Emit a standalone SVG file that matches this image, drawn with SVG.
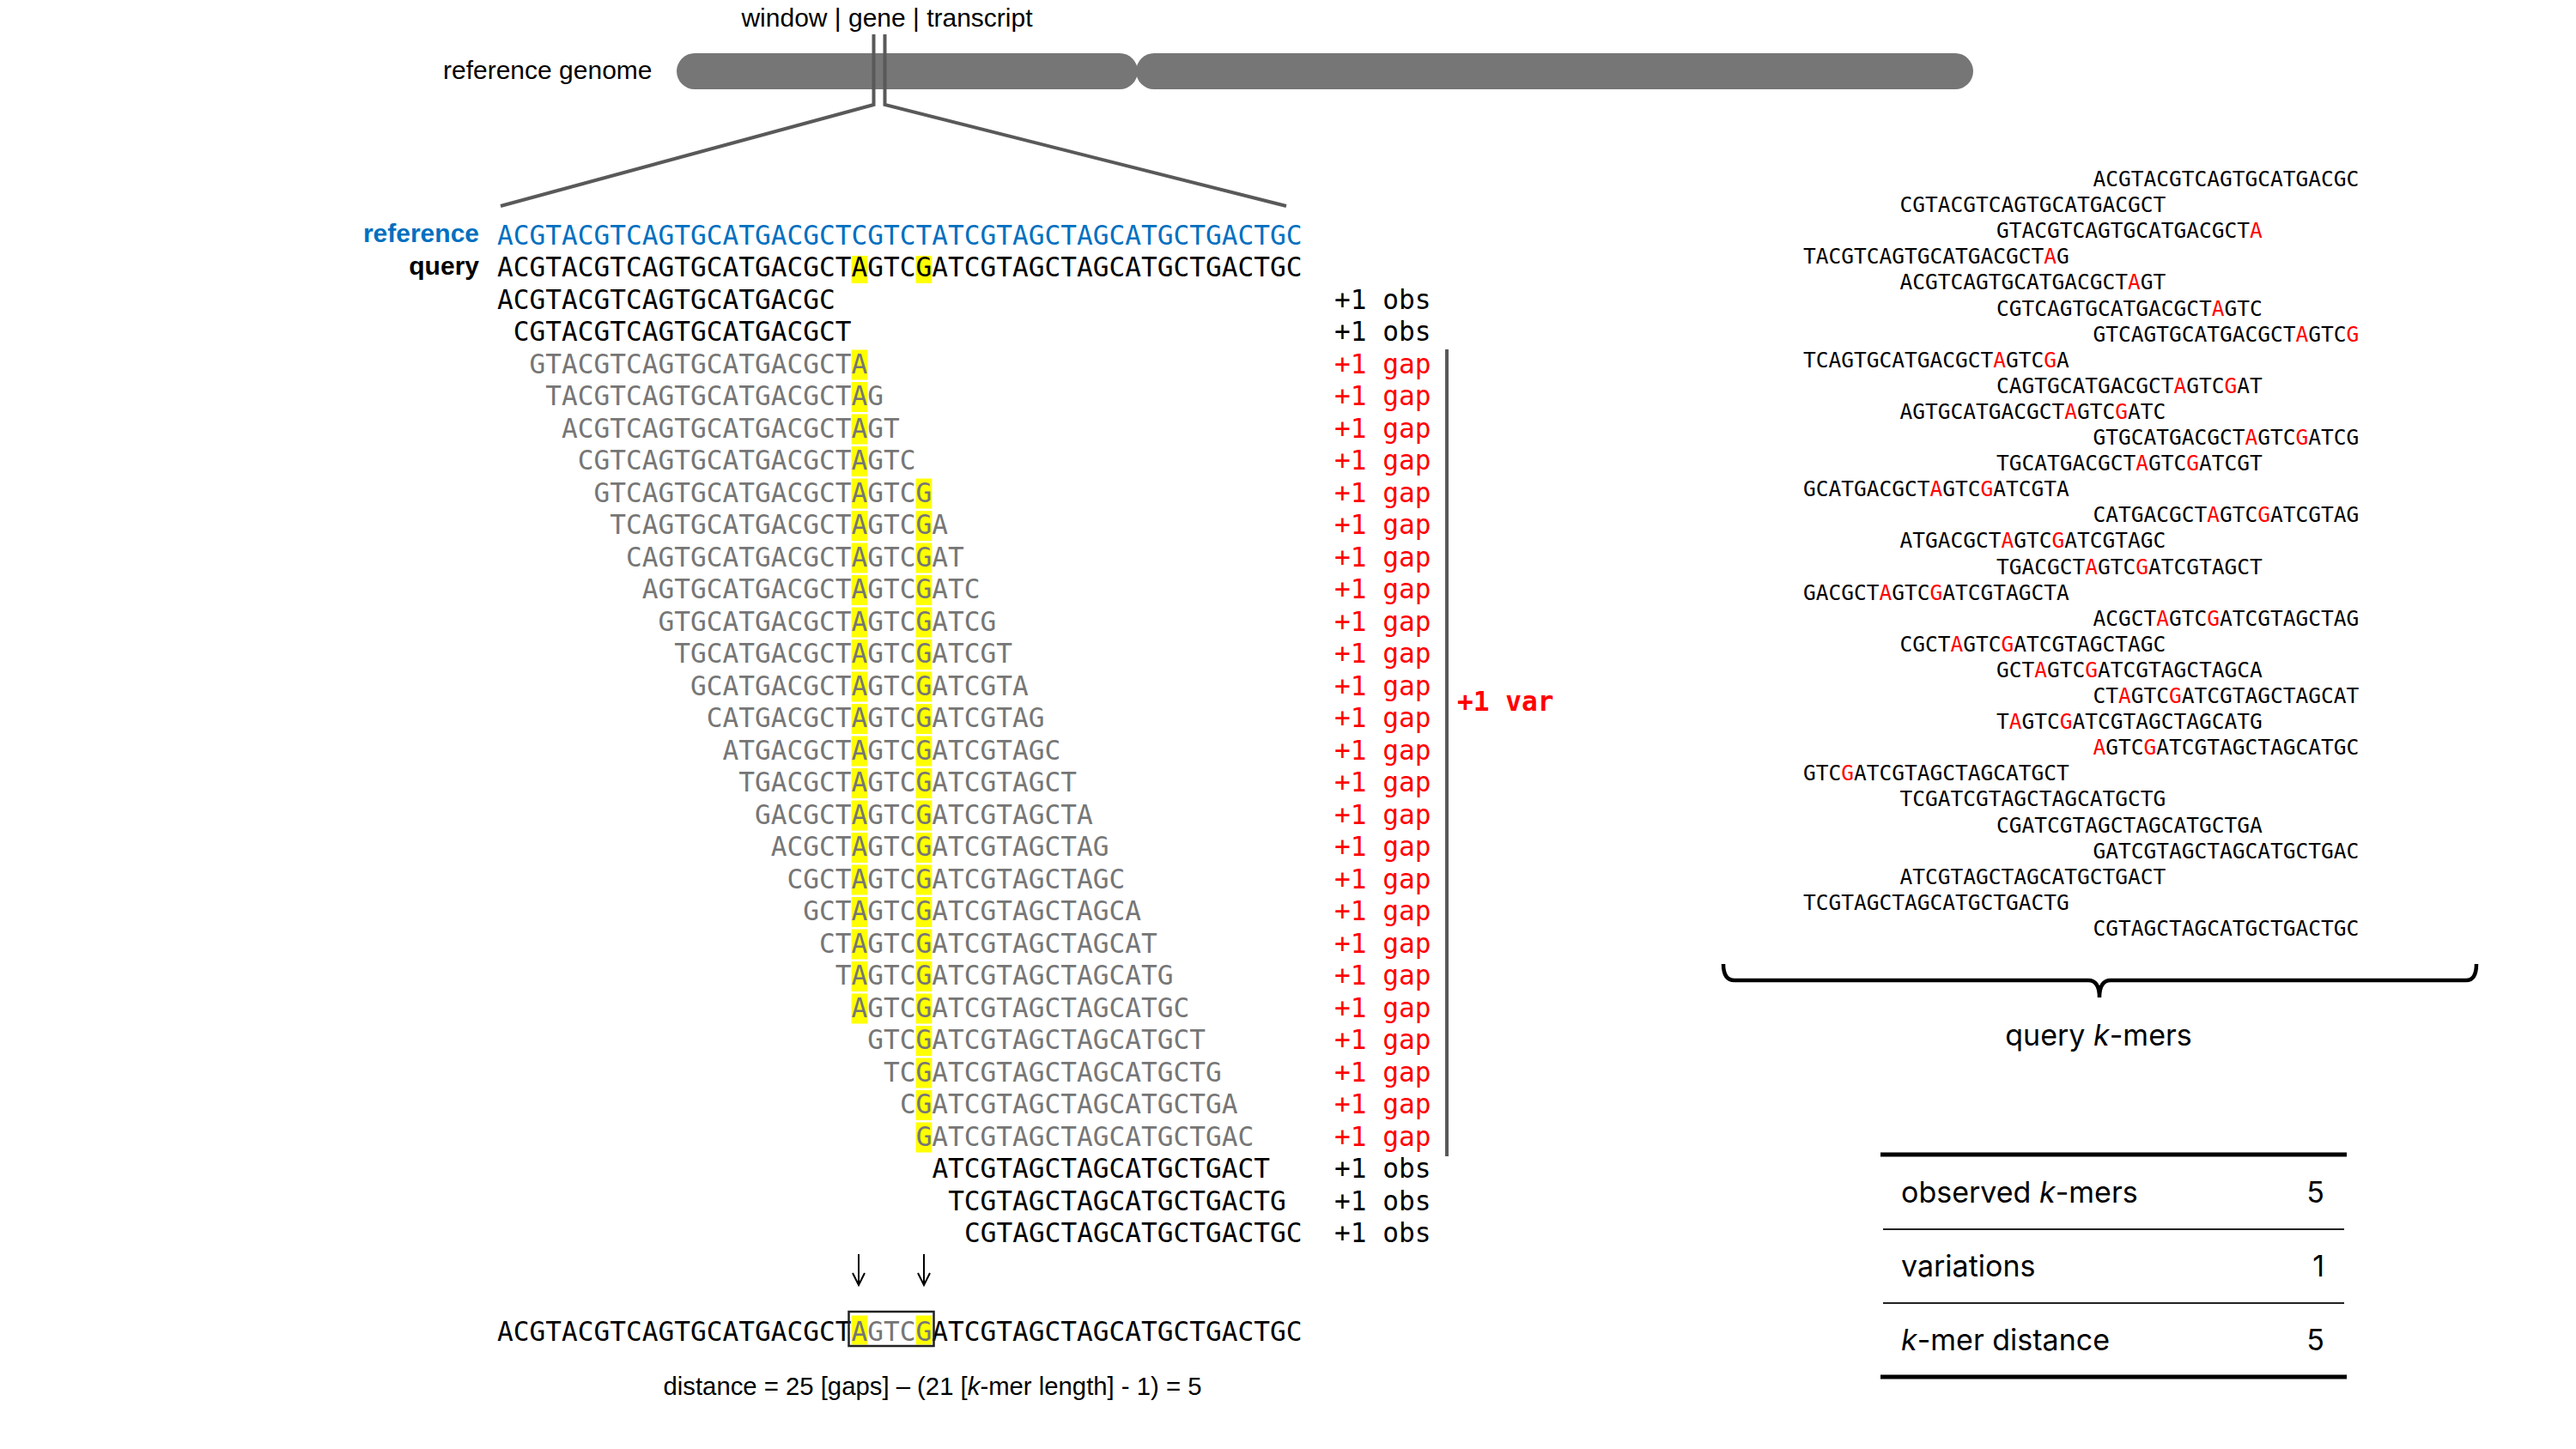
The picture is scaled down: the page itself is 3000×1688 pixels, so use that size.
<svg xmlns="http://www.w3.org/2000/svg" width="3000" height="1688" viewBox="0 0 3000 1688">
<style>
.seq{font-family:"DejaVu Sans Mono","Liberation Mono",monospace;font-size:31.15px;}
.kl{font-family:"DejaVu Sans Mono","Liberation Mono",monospace;font-size:24.5px;fill:#000;}
.gray{fill:#767676;}
.blk{fill:#000;}
.blue{fill:#0070C0;}
.red{fill:#FF0000;}
.hl{fill:#FFFF00;}
.lbl{font-family:"Liberation Sans",Arial,sans-serif;font-size:30px;fill:#000;}
.dist{font-family:"Liberation Sans",Arial,sans-serif;font-size:29.3px;fill:#000;}
.blbl{font-family:"Liberation Sans",Arial,sans-serif;font-size:30px;font-weight:bold;}
.tbl{font-family:Inter,"Liberation Sans",sans-serif;font-size:34px;fill:#000;}
.zoomln{fill:none;stroke:#595959;stroke-width:4;}
.arrow{fill:none;stroke:#000;stroke-width:2;}
</style>
<rect width="3000" height="1688" fill="#fff"/>

<g id="genome">
  <text class="lbl" x="1033" y="31" text-anchor="middle">window | gene | transcript</text>
  <text class="lbl" x="516" y="92">reference genome</text>
  <rect x="788" y="62" width="537" height="42" rx="21" fill="#767676"/>
  <rect x="1323" y="62" width="975" height="42" rx="21" fill="#767676"/>
</g>

<g id="connectors">
  <path class="zoomln" d="M1017.5,40 V122 L583,240"/>
  <path class="zoomln" d="M1030.5,40 V122 L1498,240"/>
  <line x1="1685" y1="407" x2="1685" y2="1347" stroke="#595959" stroke-width="4"/>
  <path class="arrow" d="M1000,1461 V1497 M993,1483 L1000,1497 L1007,1483"/>
  <path class="arrow" d="M1076,1461 V1497 M1069,1483 L1076,1497 L1083,1483"/>
</g>

<g id="highlights">
  <rect class="hl" x="991.6" y="298" width="18.76" height="32"/>
  <rect class="hl" x="1066.6" y="298" width="18.76" height="32"/>
  <rect class="hl" x="991.6" y="407.5" width="18.76" height="35"/>
  <rect class="hl" x="991.6" y="445" width="18.76" height="35"/>
  <rect class="hl" x="991.6" y="482.5" width="18.76" height="35"/>
  <rect class="hl" x="991.6" y="520" width="18.76" height="35"/>
  <rect class="hl" x="991.6" y="557.5" width="18.76" height="35"/>
  <rect class="hl" x="991.6" y="595" width="18.76" height="35"/>
  <rect class="hl" x="991.6" y="632.5" width="18.76" height="35"/>
  <rect class="hl" x="991.6" y="670" width="18.76" height="35"/>
  <rect class="hl" x="991.6" y="707.5" width="18.76" height="35"/>
  <rect class="hl" x="991.6" y="745" width="18.76" height="35"/>
  <rect class="hl" x="991.6" y="782.5" width="18.76" height="35"/>
  <rect class="hl" x="991.6" y="820" width="18.76" height="35"/>
  <rect class="hl" x="991.6" y="857.5" width="18.76" height="35"/>
  <rect class="hl" x="991.6" y="895" width="18.76" height="35"/>
  <rect class="hl" x="991.6" y="932.5" width="18.76" height="35"/>
  <rect class="hl" x="991.6" y="970" width="18.76" height="35"/>
  <rect class="hl" x="991.6" y="1007.5" width="18.76" height="35"/>
  <rect class="hl" x="991.6" y="1045" width="18.76" height="35"/>
  <rect class="hl" x="991.6" y="1082.5" width="18.76" height="35"/>
  <rect class="hl" x="991.6" y="1120" width="18.76" height="35"/>
  <rect class="hl" x="991.6" y="1157.5" width="18.76" height="35"/>
  <rect class="hl" x="1066.6" y="557.5" width="18.76" height="35"/>
  <rect class="hl" x="1066.6" y="595" width="18.76" height="35"/>
  <rect class="hl" x="1066.6" y="632.5" width="18.76" height="35"/>
  <rect class="hl" x="1066.6" y="670" width="18.76" height="35"/>
  <rect class="hl" x="1066.6" y="707.5" width="18.76" height="35"/>
  <rect class="hl" x="1066.6" y="745" width="18.76" height="35"/>
  <rect class="hl" x="1066.6" y="782.5" width="18.76" height="35"/>
  <rect class="hl" x="1066.6" y="820" width="18.76" height="35"/>
  <rect class="hl" x="1066.6" y="857.5" width="18.76" height="35"/>
  <rect class="hl" x="1066.6" y="895" width="18.76" height="35"/>
  <rect class="hl" x="1066.6" y="932.5" width="18.76" height="35"/>
  <rect class="hl" x="1066.6" y="970" width="18.76" height="35"/>
  <rect class="hl" x="1066.6" y="1007.5" width="18.76" height="35"/>
  <rect class="hl" x="1066.6" y="1045" width="18.76" height="35"/>
  <rect class="hl" x="1066.6" y="1082.5" width="18.76" height="35"/>
  <rect class="hl" x="1066.6" y="1120" width="18.76" height="35"/>
  <rect class="hl" x="1066.6" y="1157.5" width="18.76" height="35"/>
  <rect class="hl" x="1066.6" y="1195" width="18.76" height="35"/>
  <rect class="hl" x="1066.6" y="1232.5" width="18.76" height="35"/>
  <rect class="hl" x="1066.6" y="1270" width="18.76" height="35"/>
  <rect class="hl" x="1066.6" y="1307.5" width="18.76" height="35"/>
  <rect class="hl" x="991.6" y="1532.5" width="18.76" height="34"/>
  <rect class="hl" x="1066.6" y="1532.5" width="18.76" height="34"/>
</g>

<g id="reference-row">
  <text class="blbl blue" x="558" y="282" text-anchor="end">reference</text>
  <text class="seq blue" x="579" y="284.5">ACGTACGTCAGTGCATGACGCTCGTCTATCGTAGCTAGCATGCTGACTGC</text>
</g>
<g id="query-row">
  <text class="blbl blk" x="558" y="319.5" text-anchor="end">query</text>
  <text class="seq blk" x="579" y="322">ACGTACGTCAGTGCATGACGCTAGTCGATCGTAGCTAGCATGCTGACTGC</text>
</g>

<g id="kmer-rows">
  <text class="seq blk" x="579" y="359.5">ACGTACGTCAGTGCATGACGC</text>
  <text class="seq blk" x="597.76" y="397">CGTACGTCAGTGCATGACGCT</text>
  <text class="seq gray" x="616.51" y="434.5">GTACGTCAGTGCATGACGCTA</text>
  <text class="seq gray" x="635.27" y="472">TACGTCAGTGCATGACGCTAG</text>
  <text class="seq gray" x="654.02" y="509.5">ACGTCAGTGCATGACGCTAGT</text>
  <text class="seq gray" x="672.78" y="547">CGTCAGTGCATGACGCTAGTC</text>
  <text class="seq gray" x="691.53" y="584.5">GTCAGTGCATGACGCTAGTCG</text>
  <text class="seq gray" x="710.29" y="622">TCAGTGCATGACGCTAGTCGA</text>
  <text class="seq gray" x="729.04" y="659.5">CAGTGCATGACGCTAGTCGAT</text>
  <text class="seq gray" x="747.80" y="697">AGTGCATGACGCTAGTCGATC</text>
  <text class="seq gray" x="766.55" y="734.5">GTGCATGACGCTAGTCGATCG</text>
  <text class="seq gray" x="785.31" y="772">TGCATGACGCTAGTCGATCGT</text>
  <text class="seq gray" x="804.06" y="809.5">GCATGACGCTAGTCGATCGTA</text>
  <text class="seq gray" x="822.82" y="847">CATGACGCTAGTCGATCGTAG</text>
  <text class="seq gray" x="841.57" y="884.5">ATGACGCTAGTCGATCGTAGC</text>
  <text class="seq gray" x="860.33" y="922">TGACGCTAGTCGATCGTAGCT</text>
  <text class="seq gray" x="879.08" y="959.5">GACGCTAGTCGATCGTAGCTA</text>
  <text class="seq gray" x="897.84" y="997">ACGCTAGTCGATCGTAGCTAG</text>
  <text class="seq gray" x="916.59" y="1034.5">CGCTAGTCGATCGTAGCTAGC</text>
  <text class="seq gray" x="935.35" y="1072">GCTAGTCGATCGTAGCTAGCA</text>
  <text class="seq gray" x="954.10" y="1109.5">CTAGTCGATCGTAGCTAGCAT</text>
  <text class="seq gray" x="972.86" y="1147">TAGTCGATCGTAGCTAGCATG</text>
  <text class="seq gray" x="991.61" y="1184.5">AGTCGATCGTAGCTAGCATGC</text>
  <text class="seq gray" x="1010.37" y="1222">GTCGATCGTAGCTAGCATGCT</text>
  <text class="seq gray" x="1029.12" y="1259.5">TCGATCGTAGCTAGCATGCTG</text>
  <text class="seq gray" x="1047.88" y="1297">CGATCGTAGCTAGCATGCTGA</text>
  <text class="seq gray" x="1066.63" y="1334.5">GATCGTAGCTAGCATGCTGAC</text>
  <text class="seq blk" x="1085.39" y="1372">ATCGTAGCTAGCATGCTGACT</text>
  <text class="seq blk" x="1104.14" y="1409.5">TCGTAGCTAGCATGCTGACTG</text>
  <text class="seq blk" x="1122.90" y="1447">CGTAGCTAGCATGCTGACTGC</text>
</g>

<g id="counts">
  <text class="seq blk" x="1554" y="359.5">+1 obs</text>
  <text class="seq blk" x="1554" y="397">+1 obs</text>
  <text class="seq red" x="1554" y="434.5">+1 gap</text>
  <text class="seq red" x="1554" y="472">+1 gap</text>
  <text class="seq red" x="1554" y="509.5">+1 gap</text>
  <text class="seq red" x="1554" y="547">+1 gap</text>
  <text class="seq red" x="1554" y="584.5">+1 gap</text>
  <text class="seq red" x="1554" y="622">+1 gap</text>
  <text class="seq red" x="1554" y="659.5">+1 gap</text>
  <text class="seq red" x="1554" y="697">+1 gap</text>
  <text class="seq red" x="1554" y="734.5">+1 gap</text>
  <text class="seq red" x="1554" y="772">+1 gap</text>
  <text class="seq red" x="1554" y="809.5">+1 gap</text>
  <text class="seq red" x="1554" y="847">+1 gap</text>
  <text class="seq red" x="1554" y="884.5">+1 gap</text>
  <text class="seq red" x="1554" y="922">+1 gap</text>
  <text class="seq red" x="1554" y="959.5">+1 gap</text>
  <text class="seq red" x="1554" y="997">+1 gap</text>
  <text class="seq red" x="1554" y="1034.5">+1 gap</text>
  <text class="seq red" x="1554" y="1072">+1 gap</text>
  <text class="seq red" x="1554" y="1109.5">+1 gap</text>
  <text class="seq red" x="1554" y="1147">+1 gap</text>
  <text class="seq red" x="1554" y="1184.5">+1 gap</text>
  <text class="seq red" x="1554" y="1222">+1 gap</text>
  <text class="seq red" x="1554" y="1259.5">+1 gap</text>
  <text class="seq red" x="1554" y="1297">+1 gap</text>
  <text class="seq red" x="1554" y="1334.5">+1 gap</text>
  <text class="seq blk" x="1554" y="1372">+1 obs</text>
  <text class="seq blk" x="1554" y="1409.5">+1 obs</text>
  <text class="seq blk" x="1554" y="1447">+1 obs</text>
  <text class="seq red" x="1697" y="828" font-weight="bold">+1 var</text>
</g>

<g id="result-row">
  <text class="seq blk" x="579" y="1561.5">ACGTACGTCAGTGCATGACGCT<tspan class="gray">AGTCG</tspan>ATCGTAGCTAGCATGCTGACTGC</text>
  <rect x="988.5" y="1528" width="99" height="40" fill="none" stroke="#222" stroke-width="2.5"/>
  <text class="dist" x="1086" y="1625" text-anchor="middle">distance = 25 [gaps] – (21 [<tspan font-style="italic">k</tspan>-mer length] - 1) = 5</text>
</g>

<g id="query-kmer-list">
  <text class="kl" x="2437.5" y="217">ACGTACGTCAGTGCATGACGC</text>
  <text class="kl" x="2212.5" y="247.1">CGTACGTCAGTGCATGACGCT</text>
  <text class="kl" x="2325" y="277.2">GTACGTCAGTGCATGACGCT<tspan class="red">A</tspan></text>
  <text class="kl" x="2100" y="307.3">TACGTCAGTGCATGACGCT<tspan class="red">A</tspan>G</text>
  <text class="kl" x="2212.5" y="337.4">ACGTCAGTGCATGACGCT<tspan class="red">A</tspan>GT</text>
  <text class="kl" x="2325" y="367.5">CGTCAGTGCATGACGCT<tspan class="red">A</tspan>GTC</text>
  <text class="kl" x="2437.5" y="397.6">GTCAGTGCATGACGCT<tspan class="red">A</tspan>GTC<tspan class="red">G</tspan></text>
  <text class="kl" x="2100" y="427.7">TCAGTGCATGACGCT<tspan class="red">A</tspan>GTC<tspan class="red">G</tspan>A</text>
  <text class="kl" x="2325" y="457.8">CAGTGCATGACGCT<tspan class="red">A</tspan>GTC<tspan class="red">G</tspan>AT</text>
  <text class="kl" x="2212.5" y="487.9">AGTGCATGACGCT<tspan class="red">A</tspan>GTC<tspan class="red">G</tspan>ATC</text>
  <text class="kl" x="2437.5" y="518">GTGCATGACGCT<tspan class="red">A</tspan>GTC<tspan class="red">G</tspan>ATCG</text>
  <text class="kl" x="2325" y="548.1">TGCATGACGCT<tspan class="red">A</tspan>GTC<tspan class="red">G</tspan>ATCGT</text>
  <text class="kl" x="2100" y="578.2">GCATGACGCT<tspan class="red">A</tspan>GTC<tspan class="red">G</tspan>ATCGTA</text>
  <text class="kl" x="2437.5" y="608.3">CATGACGCT<tspan class="red">A</tspan>GTC<tspan class="red">G</tspan>ATCGTAG</text>
  <text class="kl" x="2212.5" y="638.4">ATGACGCT<tspan class="red">A</tspan>GTC<tspan class="red">G</tspan>ATCGTAGC</text>
  <text class="kl" x="2325" y="668.5">TGACGCT<tspan class="red">A</tspan>GTC<tspan class="red">G</tspan>ATCGTAGCT</text>
  <text class="kl" x="2100" y="698.6">GACGCT<tspan class="red">A</tspan>GTC<tspan class="red">G</tspan>ATCGTAGCTA</text>
  <text class="kl" x="2437.5" y="728.7">ACGCT<tspan class="red">A</tspan>GTC<tspan class="red">G</tspan>ATCGTAGCTAG</text>
  <text class="kl" x="2212.5" y="758.8">CGCT<tspan class="red">A</tspan>GTC<tspan class="red">G</tspan>ATCGTAGCTAGC</text>
  <text class="kl" x="2325" y="788.9">GCT<tspan class="red">A</tspan>GTC<tspan class="red">G</tspan>ATCGTAGCTAGCA</text>
  <text class="kl" x="2437.5" y="819">CT<tspan class="red">A</tspan>GTC<tspan class="red">G</tspan>ATCGTAGCTAGCAT</text>
  <text class="kl" x="2325" y="849.1">T<tspan class="red">A</tspan>GTC<tspan class="red">G</tspan>ATCGTAGCTAGCATG</text>
  <text class="kl" x="2437.5" y="879.2"><tspan class="red">A</tspan>GTC<tspan class="red">G</tspan>ATCGTAGCTAGCATGC</text>
  <text class="kl" x="2100" y="909.3">GTC<tspan class="red">G</tspan>ATCGTAGCTAGCATGCT</text>
  <text class="kl" x="2212.5" y="939.4">TCGATCGTAGCTAGCATGCTG</text>
  <text class="kl" x="2325" y="969.5">CGATCGTAGCTAGCATGCTGA</text>
  <text class="kl" x="2437.5" y="999.6">GATCGTAGCTAGCATGCTGAC</text>
  <text class="kl" x="2212.5" y="1029.7">ATCGTAGCTAGCATGCTGACT</text>
  <text class="kl" x="2100" y="1059.8">TCGTAGCTAGCATGCTGACTG</text>
  <text class="kl" x="2437.5" y="1089.9">CGTAGCTAGCATGCTGACTGC</text>
</g>

<g id="brace">
  <path d="M2007,1123 Q2007,1142 2020,1142 H2432 Q2445,1142 2445,1162 Q2445,1142 2458,1142 H2872 Q2884,1142 2884,1123" fill="none" stroke="#000" stroke-width="4.5"/>
  <text class="tbl" x="2444" y="1218" text-anchor="middle">query <tspan font-style="italic">k</tspan>-mers</text>
</g>

<g id="summary-table">
  <line x1="2190" y1="1345" x2="2733" y2="1345" stroke="#000" stroke-width="5"/>
  <line x1="2193" y1="1432" x2="2730" y2="1432" stroke="#222" stroke-width="2"/>
  <line x1="2193" y1="1518" x2="2730" y2="1518" stroke="#222" stroke-width="2"/>
  <line x1="2190" y1="1604" x2="2733" y2="1604" stroke="#000" stroke-width="5"/>
  <text class="tbl" x="2214" y="1401">observed <tspan font-style="italic">k</tspan>-mers</text>
  <text class="tbl" x="2707" y="1401" text-anchor="end">5</text>
  <text class="tbl" x="2214" y="1487">variations</text>
  <text class="tbl" x="2707" y="1487" text-anchor="end">1</text>
  <text class="tbl" x="2214" y="1573"><tspan font-style="italic">k</tspan>-mer distance</text>
  <text class="tbl" x="2707" y="1573" text-anchor="end">5</text>
</g>
</svg>
